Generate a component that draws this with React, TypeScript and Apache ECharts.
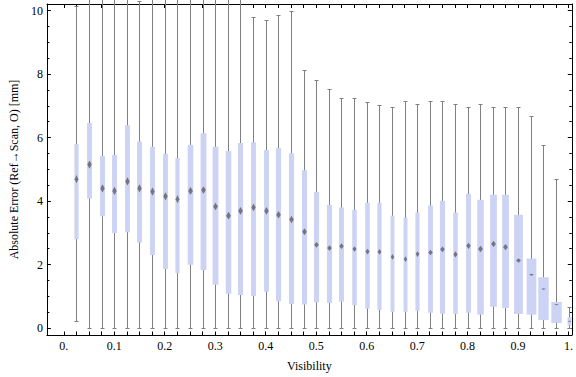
import React, { useEffect, useRef } from "react";
import * as echarts from "echarts";

const visibility = [
  0.025, 0.05, 0.075, 0.1, 0.125, 0.15, 0.175, 0.2, 0.225, 0.25,
  0.275, 0.3, 0.325, 0.35, 0.375, 0.4, 0.425, 0.45, 0.475, 0.5,
  0.525, 0.55, 0.575, 0.6, 0.625, 0.65, 0.675, 0.7, 0.725, 0.75,
  0.775, 0.8, 0.825, 0.85, 0.875, 0.9, 0.925, 0.95, 0.975, 1.0,
];
const whiskerLow = [
  0.21, 0, 0, 0, 0, 0, 0, 0, 0, 0,
  0, 0, 0, 0, 0, 0, 0, 0, 0, 0,
  0, 0, 0, 0, 0, 0, 0, 0, 0, 0,
  0, 0, 0, 0, 0, 0, 0, 0, 0, 0,
];
const q1 = [
  2.8, 4.08, 3.52, 2.99, 3.02, 2.69, 2.3, 1.86, 1.73, 1.99,
  1.83, 1.36, 1.08, 1.04, 1.01, 1.14, 0.84, 0.76, 0.74, 0.81,
  0.79, 0.83, 0.72, 0.61, 0.57, 0.51, 0.51, 0.54, 0.48, 0.45,
  0.44, 0.48, 0.42, 0.67, 0.63, 0.44, 0.42, 0.25, 0.16, 0.08,
];
const median = [
  4.69, 5.15, 4.4, 4.32, 4.62, 4.4, 4.3, 4.15, 4.06, 4.32,
  4.35, 3.83, 3.54, 3.69, 3.8, 3.69, 3.57, 3.42, 3.03, 2.62,
  2.52, 2.58, 2.49, 2.41, 2.4, 2.24, 2.17, 2.33, 2.38, 2.48,
  2.32, 2.59, 2.49, 2.65, 2.55, 2.13, 1.68, 1.23, 0.74, 0.21,
];
const q3 = [
  5.8, 6.46, 5.42, 5.45, 6.39, 5.88, 5.71, 5.49, 5.36, 5.77,
  6.14, 5.71, 5.58, 5.83, 5.85, 5.61, 5.67, 5.51, 4.97, 4.29,
  3.88, 3.8, 3.73, 3.95, 3.95, 3.54, 3.48, 3.64, 3.86, 4.01,
  3.64, 4.23, 4.04, 4.2, 4.2, 3.57, 2.19, 1.6, 0.82, 0.34,
];
const whiskerHigh = [
  10.15, 10.8, 10.8, 10.8, 10.8, 10.32, 10.8, 10.8, 10.8, 10.8,
  10.8, 10.8, 10.8, 10.8, 9.8, 9.71, 9.86, 9.99, 8.14, 7.83,
  7.54, 7.24, 7.26, 7.11, 7.04, 6.95, 7.14, 7.07, 7.14, 7.14,
  7.07, 6.95, 7.07, 6.95, 6.98, 6.98, 6.67, 5.77, 4.69, 0.65,
];
// box widths in visibility units
const boxWidth = [
  0.0083, 0.0097, 0.0097, 0.0097, 0.0097, 0.0097, 0.0097, 0.0097, 0.0083, 0.011,
  0.0116, 0.0116, 0.011, 0.0102, 0.0097, 0.0097, 0.0102, 0.0102, 0.0102, 0.0102,
  0.0102, 0.0097, 0.0091, 0.0091, 0.0083, 0.0077, 0.0077, 0.0083, 0.0097, 0.0102,
  0.0091, 0.0097, 0.0129, 0.0135, 0.0135, 0.0174, 0.0193, 0.0207, 0.0207, 0.0077,
];
// half-height of the median marker, in mm
const medianHalf = [
  0.13, 0.13, 0.13, 0.13, 0.13, 0.13, 0.13, 0.13, 0.13, 0.12,
  0.12, 0.12, 0.12, 0.12, 0.12, 0.12, 0.12, 0.12, 0.11, 0.09,
  0.09, 0.09, 0.09, 0.09, 0.09, 0.09, 0.09, 0.09, 0.09, 0.09,
  0.1, 0.1, 0.1, 0.1, 0.1, 0.07, 0.03, 0.025, 0.02, 0.015,
];

const xTickValues = Array.from({ length: 41 }, (_, i) => Math.round(i * 25) / 1000);
const xLabelValues = [0, 0.1, 0.2, 0.3, 0.4, 0.5, 0.6, 0.7, 0.8, 0.9, 1];
const yLabelValues = [0, 2, 4, 6, 8, 10];

const FONT = "'Liberation Serif', 'Times New Roman', 'DejaVu Serif', serif";

export default function App() {
  const ref = useRef<HTMLDivElement>(null);
  useEffect(() => {
    document.body.style.margin = "0";
    const chart = echarts.init(ref.current!, null, { renderer: "svg" });
    const data = visibility.map((v, i) => [
      v, whiskerLow[i], q1[i], median[i], q3[i], whiskerHigh[i], boxWidth[i], medianHalf[i],
    ]);

    const renderItem = (params: any, api: any) => {
      const x = api.value(0);
      const pLow = api.coord([x, api.value(1)]);
      const pQ1 = api.coord([x, api.value(2)]);
      const pMed = api.coord([x, api.value(3)]);
      const pQ3 = api.coord([x, api.value(4)]);
      const pHigh = api.coord([x, api.value(5)]);
      const wPx = api.size([api.value(6), 0])[0];
      const hHalf = Math.max(0.6, api.size([0, api.value(7)])[1]);
      const cx = Math.round(pLow[0]) + 0.5;
      const yLow = Math.round(pLow[1]) + 0.5;
      const yHigh = Math.round(pHigh[1]) + 0.5;
      const mw = Math.min(2.4, wPx * 0.45);
      const gray = "#808080";
      return {
        type: "group",
        children: [
          {
            type: "line",
            shape: { x1: cx, y1: yLow, x2: cx, y2: yHigh },
            style: { stroke: gray, lineWidth: 1 },
          },
          {
            type: "line",
            shape: { x1: cx - 2, y1: yLow, x2: cx + 2, y2: yLow },
            style: { stroke: gray, lineWidth: 1 },
          },
          {
            type: "line",
            shape: { x1: cx - 2, y1: yHigh, x2: cx + 2, y2: yHigh },
            style: { stroke: gray, lineWidth: 1 },
          },
          {
            type: "rect",
            shape: { x: cx - wPx / 2, y: pQ3[1], width: wPx, height: pQ1[1] - pQ3[1] },
            style: { fill: "#cdd3f5" },
          },
          {
            type: "polygon",
            shape: {
              points: [
                [cx, pMed[1] - hHalf],
                [cx + mw, pMed[1]],
                [cx, pMed[1] + hHalf],
                [cx - mw, pMed[1]],
              ],
            },
            style: { fill: "rgba(100,100,108,0.85)" },
          },
        ],
      };
    };

    const xCommon = {
      type: "value" as const,
      min: -0.0334,
      max: 1.0064,
      splitLine: { show: false },
      axisLine: { show: true, onZero: false, lineStyle: { color: "#000", width: 1 } },
    };
    const yCommon = {
      type: "value" as const,
      min: -0.22,
      max: 10.21,
      minInterval: 2,
      maxInterval: 2,
      splitLine: { show: false },
      axisLine: { show: true, onZero: false, lineStyle: { color: "#000", width: 1 } },
      minorTick: { show: true, splitNumber: 4, length: 2.5, lineStyle: { color: "#000" } },
      minorSplitLine: { show: false },
    };

    chart.setOption({
      animation: false,
      grid: { left: 36, right: 2, top: 4, bottom: 40 },
      xAxis: [
        {
          ...xCommon,
          position: "bottom",
          name: "Visibility",
          nameLocation: "middle",
          nameGap: 25,
          nameTextStyle: { fontFamily: FONT, fontSize: 12, color: "#000" },
          axisTick: { show: true, inside: true, length: 3.5, customValues: xTickValues, lineStyle: { color: "#000" } },
          axisLabel: {
            show: true,
            customValues: xLabelValues,
            margin: 5,
            fontFamily: FONT,
            fontSize: 12,
            color: "#000",
            formatter: (v: number) => (v === 0 ? "0." : v === 1 ? "1." : v.toFixed(1)),
          },
        },
        {
          ...xCommon,
          position: "top",
          axisTick: { show: true, inside: true, length: 4, customValues: xTickValues, lineStyle: { color: "#000" } },
          axisLabel: { show: false },
        },
      ],
      yAxis: [
        {
          ...yCommon,
          position: "left",
          name: "Absolute Error (Ref\u2192Scan, O) [mm]",
          nameLocation: "middle",
          nameGap: 20,
          nameTextStyle: { fontFamily: FONT, fontSize: 12, color: "#000" },
          axisTick: { show: true, inside: true, length: 4, customValues: yLabelValues, lineStyle: { color: "#000" } },
          axisLabel: {
            show: true,
            customValues: yLabelValues,
            margin: 4,
            fontFamily: FONT,
            fontSize: 12,
            color: "#000",
          },
        },
        {
          ...yCommon,
          position: "right",
          axisTick: { show: true, inside: true, length: 4, customValues: yLabelValues, lineStyle: { color: "#000" } },
          axisLabel: { show: false },
        },
      ],
      series: [
        {
          type: "custom",
          clip: false,
          xAxisIndex: 0,
          yAxisIndex: 0,
          renderItem,
          dimensions: ["x", "low", "q1", "median", "q3", "high", "w", "mh"],
          encode: { x: 0, y: [1, 2, 3, 4, 5] },
          data,
        },
      ],
    });
    return () => chart.dispose();
  }, []);
  return <div ref={ref} style={{ width: 576, height: 377 }} />;
}
